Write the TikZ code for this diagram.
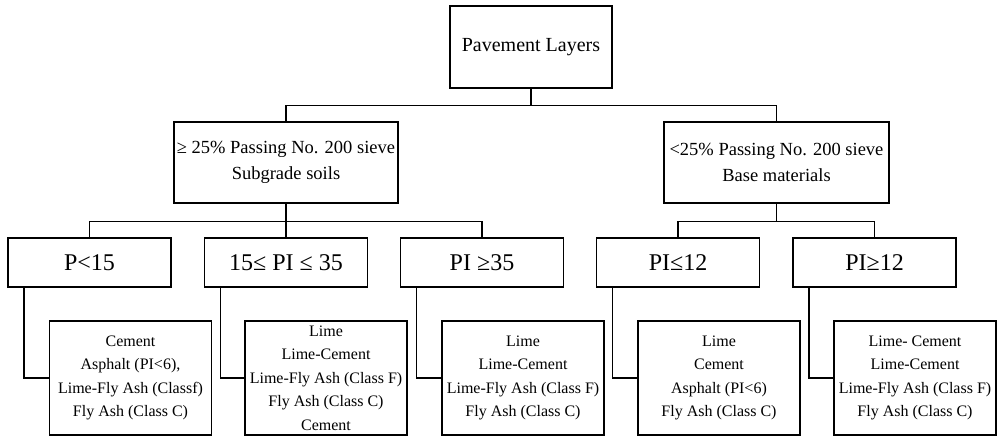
\documentclass[tikz,border=0pt]{standalone}
\usepackage{fontspec}
\setmainfont{Liberation Serif}
\usepackage{tikz}

\tikzset{
  box/.style={draw, line width=1.1pt, inner sep=0pt, align=center},
  link/.style={line width=1.1pt},
}

\begin{document}
\begin{tikzpicture}[x=1pt,y=-1pt]
% Page frame
\useasboundingbox (0,0) rectangle (999,436);

% Top box
\node[box, minimum width=162pt, minimum height=82pt,
  font=\fontsize{20}{24}\selectfont] (layers) at (531,47) {Pavement Layers};

% Second level
\node[box, minimum width=224pt, minimum height=81pt,
  font=\fontsize{18.5}{26}\selectfont] (subgrade) at (286,162.5)
  {≥ 25\% Passing No. 200 sieve\\Subgrade soils};
\node[box, minimum width=225pt, minimum height=81pt,
  font=\fontsize{18.5}{26}\selectfont] (base) at (776.5,162.5)
  {<25\% Passing No. 200 sieve\\Base materials};

% Third level: PI ranges
\node[box, minimum width=163pt, minimum height=49pt,
  font=\fontsize{24}{28}\selectfont] (pia) at (89.5,262.5) {P<15};
\node[box, minimum width=163pt, minimum height=49pt,
  font=\fontsize{24}{28}\selectfont] (pib) at (286,262.5) {15≤ PI ≤ 35};
\node[box, minimum width=163pt, minimum height=49pt,
  font=\fontsize{24}{28}\selectfont] (pic) at (482,262.5) {PI ≥35};
\node[box, minimum width=163pt, minimum height=49pt,
  font=\fontsize{24}{28}\selectfont] (pid) at (678,262.5) {PI≤12};
\node[box, minimum width=163pt, minimum height=49pt,
  font=\fontsize{24}{28}\selectfont] (pie) at (874.5,262.5) {PI≥12};

% Fourth level: stabilizers
\node[box, minimum width=162pt, minimum height=114pt,
  font=\fontsize{16}{23.5}\selectfont] (stba) at (130.5,378)
  {Cement\\Asphalt (PI<6),\\Lime-Fly Ash (Classf)\\Fly Ash (Class C)};
\node[box, minimum width=162pt, minimum height=114pt,
  font=\fontsize{16}{23.5}\selectfont] (stbb) at (326,378)
  {Lime\\Lime-Cement\\Lime-Fly Ash (Class F)\\Fly Ash (Class C)\\Cement};
\node[box, minimum width=162pt, minimum height=114pt,
  font=\fontsize{16}{23.5}\selectfont] (stbc) at (523,378)
  {Lime\\Lime-Cement\\Lime-Fly Ash (Class F)\\Fly Ash (Class C)};
\node[box, minimum width=162pt, minimum height=114pt,
  font=\fontsize{16}{23.5}\selectfont] (stbd) at (719,378)
  {Lime\\Cement\\Asphalt (PI<6)\\Fly Ash (Class C)};
\node[box, minimum width=162pt, minimum height=114pt,
  font=\fontsize{16}{23.5}\selectfont] (stbe) at (915,378)
  {Lime- Cement\\Lime-Cement\\Lime-Fly Ash (Class F)\\Fly Ash (Class C)};

% Connectors
\draw[link] (layers.south) -- ++(0,17) -| (subgrade.north);
\draw[link] (layers.south) -- ++(0,17) -| (base.north);
\foreach \n in {pia,pib,pic}
  \draw[link] (subgrade.south) -- ++(0,18) -| (\n.north);
\foreach \n in {pid,pie}
  \draw[link] (base.south) -- ++(0,18) -| (\n.north);
\draw[link] ([xshift=16.5pt]pia.south west) |- (stba.west);
\draw[link] ([xshift=16.5pt]pib.south west) |- (stbb.west);
\draw[link] ([xshift=16.5pt]pic.south west) |- (stbc.west);
\draw[link] ([xshift=16.5pt]pid.south west) |- (stbd.west);
\draw[link] ([xshift=16.5pt]pie.south west) |- (stbe.west);
\end{tikzpicture}
\end{document}
